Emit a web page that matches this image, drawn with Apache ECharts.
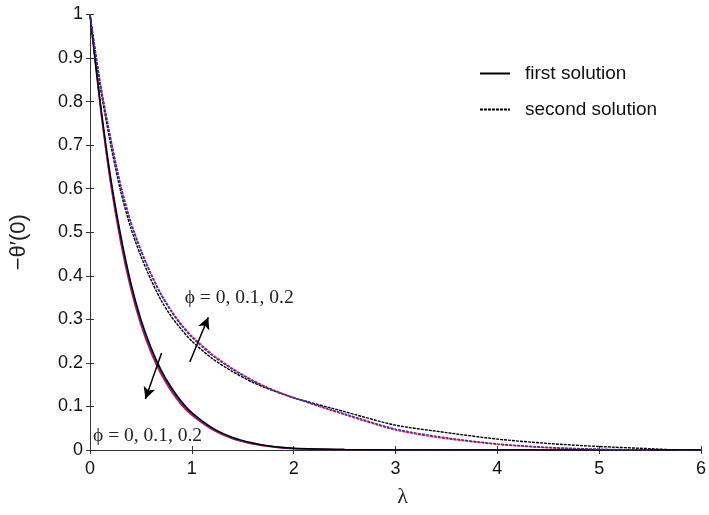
<!DOCTYPE html>
<html>
<head>
<meta charset="utf-8">
<script src="https://cdn.jsdelivr.net/npm/echarts@6/dist/echarts.min.js"></script>
<style>html,body{margin:0;padding:0;background:#fff}#c{width:709px;height:515px}</style>
</head>
<body>
<div id="c"></div>
<script>
// lambda values shared by all curves
const lambda = [0,0.1,0.2,0.3,0.4,0.5,0.6,0.7,0.8,0.9,1.0,1.2,1.4,1.6,1.8,2.0,2.5,3.0,3.5,4.0,4.5,5.0,5.5,5.75,6];
// first solution (phi = 0, 0.1, 0.2)
const first0  = [1,0.80,0.63,0.495,0.385,0.30,0.235,0.183,0.143,0.111,0.086,0.051,0.029,0.016,0.008,0.004,0.001,0,0,0,0,0,0,0,0];
const first1  = [1,0.795,0.622,0.486,0.377,0.293,0.229,0.178,0.138,0.107,0.083,0.049,0.027,0.015,0.0075,0.0035,0.001,0,0,0,0,0,0,0,0];
const first2  = [1,0.79,0.615,0.478,0.37,0.287,0.223,0.173,0.134,0.103,0.080,0.047,0.026,0.014,0.007,0.003,0.001,0,0,0,0,0,0,0,0];
// second solution (phi = 0, 0.1, 0.2)
const second0 = [1,0.835,0.705,0.595,0.51,0.445,0.39,0.343,0.306,0.276,0.25,0.21,0.18,0.155,0.136,0.12,0.088,0.057,0.04,0.025,0.015,0.008,0.003,0,null];
const second1 = [1,0.842,0.717,0.607,0.522,0.457,0.402,0.355,0.317,0.285,0.259,0.217,0.185,0.158,0.137,0.12,0.083,0.048,0.028,0.014,0.006,0.002,0,null,null];
const second2 = [1,0.845,0.72,0.61,0.525,0.46,0.405,0.358,0.32,0.288,0.262,0.22,0.187,0.16,0.138,0.12,0.081,0.046,0.026,0.013,0.005,0.001,0,null,null];
const xTicks = [0,1,2,3,4,5,6];
const yTicks = [0,0.1,0.2,0.3,0.4,0.5,0.6,0.7,0.8,0.9,1];
// annotation texts & arrows (data coordinates)
const annoText = [
  {text:'ϕ = 0, 0.1, 0.2', at:[0.93,0.35]},
  {text:'ϕ = 0, 0.1, 0.2', at:[0.03,0.032]}
];
const arrows = [
  [[0.98,0.202],[1.162,0.305]],
  [[0.703,0.223],[0.544,0.117]]
];

const pair = a => lambda.map((x,i)=>[x,a[i]]);
const BLUE='#3434b4', RED='#e8102a';
function mk(name, data, color, dashed, z){
  return {name, type:'line', data:pair(data), symbol:'none', showSymbol:false, smooth:0.25,
    connectNulls:false, z,
    lineStyle:{color, width: dashed?1.4:1.5, type: dashed?[3,1]:'solid'},
    itemStyle:{color}};
}
const chart = echarts.init(document.getElementById('c'));
const axisCommon = {
  axisLine:{show:true,lineStyle:{color:'#333',width:1}},
  axisTick:{show:true,inside:true,length:4,lineStyle:{color:'#333'}},
  splitLine:{show:false}
};
const s = [
  mk('first solution φ=0.2', first2, RED, false, 2),
  mk('first solution φ=0.1', first1, BLUE, false, 3),
  mk('first solution', first0, '#000', false, 4),
  mk('second solution', second0, '#000', true, 2),
  mk('second solution φ=0.2', second2, RED, true, 3),
  mk('second solution φ=0.1', second1, BLUE, true, 4)
];
s[2].markLine = {silent:true, symbol:['none','arrow'], symbolSize:[9,12],
  lineStyle:{color:'#000', width:1.5, type:'solid'}, label:{show:false},
  data: arrows.map(a=>[{coord:a[0]},{coord:a[1]}])};
chart.setOption({
  animation:false,
  grid:{left:90,right:7,top:14.5,bottom:65},
  legend:{data:['first solution','second solution'], orient:'vertical', left:474, top:59,
    itemWidth:30, itemHeight:14, itemGap:17, icon:'inherit',
    itemStyle:{opacity:0},
    textStyle:{fontSize:19,color:'#111',fontFamily:'Liberation Sans',padding:[0,0,0,10]}},
  xAxis:[{type:'value',min:0,max:6,interval:1,...axisCommon,
      name:'λ', nameLocation:'middle', nameGap:36,
      nameTextStyle:{fontSize:22,fontFamily:'Liberation Serif',color:'#222',padding:[0,0,0,14]},
      axisLabel:{fontSize:18,color:'#111',fontFamily:'Liberation Sans',margin:10}},
    {type:'value',min:0,max:6,interval:1,position:'top',...axisCommon,axisLabel:{show:false}}],
  yAxis:[{type:'value',min:0,max:1,interval:0.1,...axisCommon,
      name:'−θ′(0)', nameLocation:'middle', nameGap:60, nameRotate:90,
      nameTextStyle:{fontSize:22,fontFamily:'Liberation Sans',color:'#222',padding:[0,20,0,0]},
      axisLabel:{fontSize:18,color:'#111',fontFamily:'Liberation Sans',margin:7,
        formatter:v=>String(+v.toFixed(1))}},
    {type:'value',min:0,max:1,interval:0.1,position:'right',...axisCommon,axisLabel:{show:false}}],
  series:s
});
const g = annoText.map(t=>{
  const p = chart.convertToPixel({gridIndex:0}, t.at);
  return {type:'text', x:p[0], y:p[1], style:{text:t.text, fontSize:19.5, fontFamily:'Liberation Serif',
    fill:'#222', verticalAlign:'middle', align:'left'}, z:10};
});
chart.setOption({graphic:g});
</script>
</body>
</html>
